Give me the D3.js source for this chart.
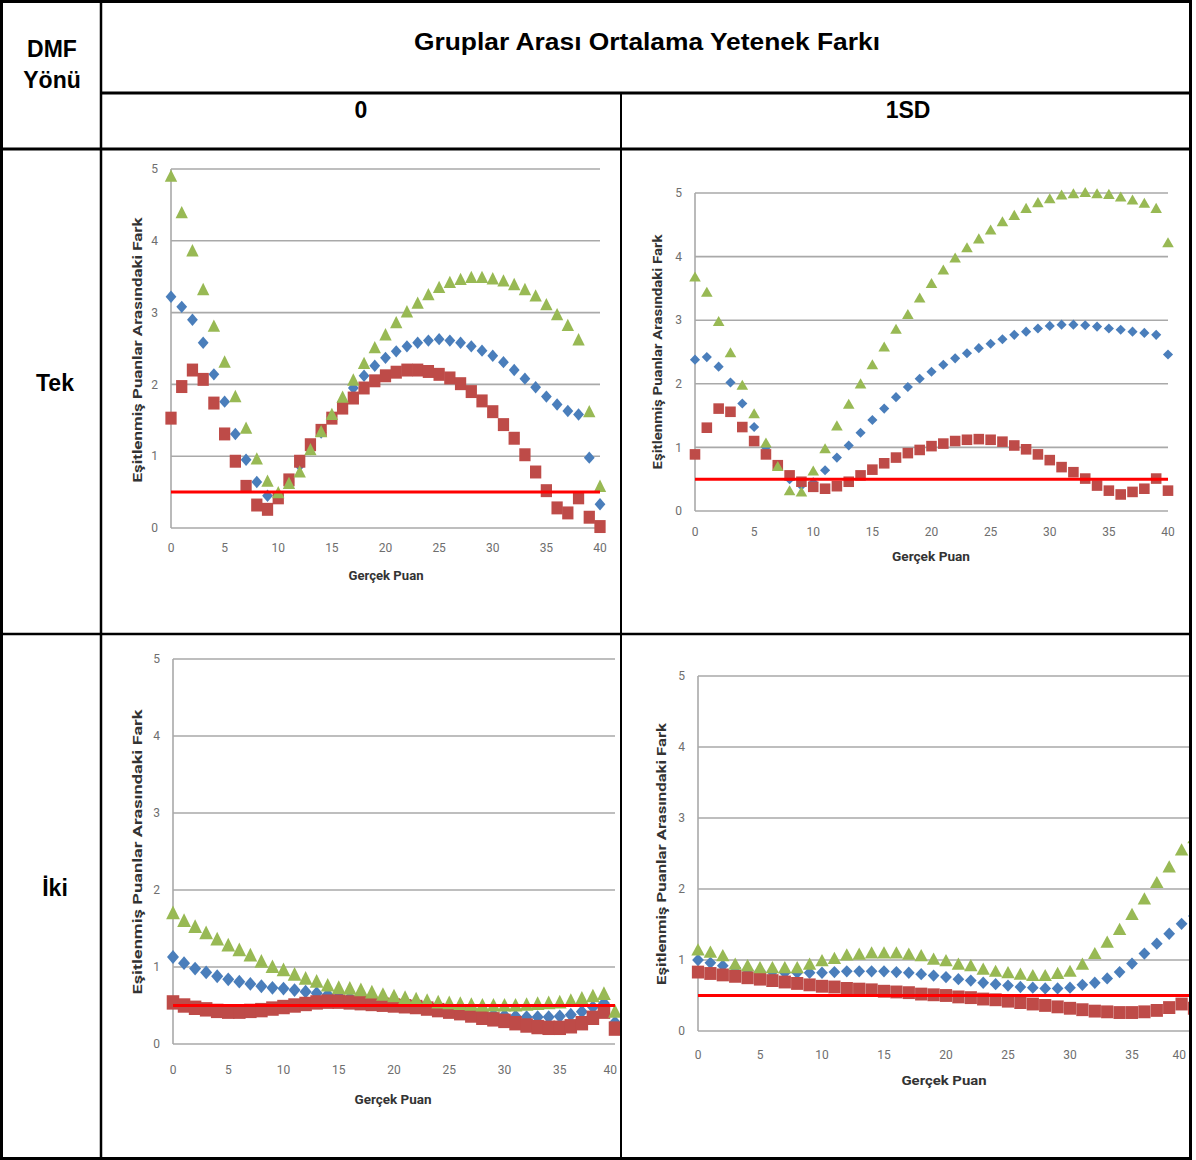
<!DOCTYPE html>
<html>
<head>
<meta charset="utf-8">
<script src="https://cdn.jsdelivr.net/npm/d3@7"></script>
<style>
  body { margin: 0; background: #fff; }
  svg { display: block; }
  .head { font-family: 'Liberation Sans', Arial, sans-serif; font-weight: bold; font-size: 23px; fill: #000; }
  .tick-label { font-family: 'Liberation Sans Narrow', 'Roboto', sans-serif; font-size: 12px; fill: #6e6e6e; }
  .axis-title { font-family: 'Liberation Sans Narrow', 'Roboto', sans-serif; font-size: 12.5px; font-weight: bold; fill: #333; }
</style>
</head>
<body>
<div id="chart"></div>
<script>
// Gerçek puan (true score) values on the x axis
let scores = [0, 1, 2, 3, 4, 5, 6, 7, 8, 9, 10, 11, 12, 13, 14, 15, 16, 17, 18, 19, 20,
  21, 22, 23, 24, 25, 26, 27, 28, 29, 30, 31, 32, 33, 34, 35, 36, 37, 38, 39, 40]

let xTicks = [0, 5, 10, 15, 20, 25, 30, 35, 40]
let yTicks = [0, 1, 2, 3, 4, 5]
let cutoff = 0.5

let colHeaders = ['0', '1SD']
let rowHeaders = ['Tek', 'İki']

// DMF Tek, ability difference 0
let tek0Blue = [3.22, 3.08, 2.90, 2.58, 2.14, 1.76, 1.31, 0.95, 0.64, 0.45, 0.45, 0.64, 0.87, 1.10, 1.33, 1.55, 1.76, 1.95, 2.12, 2.26, 2.37,
  2.46, 2.53, 2.58, 2.61, 2.63, 2.61, 2.58, 2.53, 2.47, 2.40, 2.31, 2.20, 2.08, 1.96, 1.83, 1.72, 1.63, 1.58, 0.98, 0.33]
let tek0Red = [1.53, 1.97, 2.20, 2.07, 1.74, 1.31, 0.93, 0.58, 0.32, 0.26, 0.42, 0.67, 0.93, 1.16, 1.36, 1.53, 1.67, 1.81, 1.95, 2.05, 2.12,
  2.17, 2.20, 2.20, 2.18, 2.14, 2.09, 2.01, 1.90, 1.77, 1.62, 1.44, 1.25, 1.02, 0.78, 0.52, 0.28, 0.21, 0.42, 0.15, 0.02]
let tek0Green = [4.88, 4.37, 3.84, 3.30, 2.79, 2.29, 1.81, 1.37, 0.94, 0.63, 0.47, 0.60, 0.76, 1.07, 1.32, 1.56, 1.80, 2.04, 2.27, 2.49, 2.67,
  2.84, 2.99, 3.11, 3.23, 3.33, 3.40, 3.44, 3.47, 3.47, 3.45, 3.42, 3.37, 3.30, 3.21, 3.09, 2.95, 2.80, 2.60, 1.60, 0.56]

// DMF Tek, ability difference 1SD
let tek1Blue = [2.38, 2.42, 2.27, 2.02, 1.69, 1.32, 1.00, 0.72, 0.50, 0.40, 0.45, 0.64, 0.84, 1.03, 1.23, 1.43, 1.61, 1.79, 1.95, 2.08, 2.19,
  2.30, 2.40, 2.48, 2.56, 2.63, 2.70, 2.77, 2.82, 2.87, 2.91, 2.93, 2.93, 2.92, 2.90, 2.87, 2.85, 2.82, 2.80, 2.77, 2.46]
let tek1Red = [0.89, 1.31, 1.61, 1.56, 1.32, 1.10, 0.89, 0.72, 0.56, 0.46, 0.38, 0.35, 0.39, 0.46, 0.56, 0.65, 0.75, 0.84, 0.91, 0.96, 1.02,
  1.06, 1.10, 1.12, 1.13, 1.12, 1.09, 1.03, 0.97, 0.89, 0.80, 0.69, 0.61, 0.51, 0.40, 0.32, 0.26, 0.30, 0.35, 0.51, 0.32]
let tek1Green = [3.66, 3.42, 2.96, 2.47, 1.96, 1.51, 1.05, 0.68, 0.30, 0.28, 0.61, 0.96, 1.32, 1.66, 1.98, 2.28, 2.56, 2.84, 3.07, 3.33, 3.56,
  3.77, 3.96, 4.12, 4.26, 4.40, 4.53, 4.63, 4.74, 4.83, 4.89, 4.95, 4.97, 4.99, 4.97, 4.96, 4.92, 4.87, 4.82, 4.74, 4.20]

// DMF İki, ability difference 0
let iki0Blue = [1.13, 1.05, 0.98, 0.93, 0.88, 0.84, 0.81, 0.78, 0.75, 0.73, 0.72, 0.70, 0.68, 0.66, 0.64, 0.62, 0.60, 0.58, 0.56, 0.54, 0.52,
  0.50, 0.48, 0.47, 0.45, 0.44, 0.42, 0.41, 0.40, 0.38, 0.37, 0.36, 0.35, 0.35, 0.35, 0.36, 0.38, 0.42, 0.48, 0.53, 0.28]
let iki0Red = [0.54, 0.50, 0.47, 0.45, 0.43, 0.42, 0.42, 0.43, 0.44, 0.46, 0.48, 0.50, 0.52, 0.54, 0.55, 0.55, 0.54, 0.53, 0.52, 0.51, 0.50,
  0.49, 0.48, 0.46, 0.44, 0.42, 0.40, 0.37, 0.34, 0.32, 0.30, 0.27, 0.24, 0.22, 0.21, 0.21, 0.23, 0.27, 0.34, 0.42, 0.20]
let iki0Green = [1.68, 1.58, 1.50, 1.42, 1.34, 1.26, 1.20, 1.13, 1.05, 0.98, 0.94, 0.88, 0.83, 0.79, 0.74, 0.71, 0.70, 0.68, 0.65, 0.62, 0.60,
  0.58, 0.56, 0.54, 0.52, 0.51, 0.50, 0.49, 0.48, 0.48, 0.48, 0.48, 0.49, 0.50, 0.51, 0.52, 0.54, 0.57, 0.60, 0.63, 0.40]

// DMF İki, ability difference 1SD
let iki1Blue = [1.00, 0.96, 0.92, 0.89, 0.86, 0.84, 0.83, 0.82, 0.82, 0.82, 0.82, 0.83, 0.84, 0.84, 0.84, 0.84, 0.83, 0.82, 0.80, 0.78, 0.76,
  0.73, 0.71, 0.68, 0.66, 0.64, 0.62, 0.61, 0.60, 0.60, 0.61, 0.65, 0.68, 0.74, 0.83, 0.95, 1.09, 1.23, 1.37, 1.51, 1.62]
let iki1Red = [0.83, 0.81, 0.79, 0.77, 0.75, 0.73, 0.71, 0.69, 0.67, 0.65, 0.63, 0.62, 0.60, 0.59, 0.58, 0.56, 0.55, 0.54, 0.52, 0.51, 0.50,
  0.48, 0.47, 0.45, 0.44, 0.42, 0.40, 0.38, 0.36, 0.34, 0.32, 0.30, 0.28, 0.27, 0.26, 0.26, 0.27, 0.29, 0.33, 0.38, 0.32]
let iki1Green = [1.12, 1.09, 1.04, 0.92, 0.90, 0.87, 0.87, 0.87, 0.87, 0.92, 0.97, 1.00, 1.05, 1.06, 1.08, 1.08, 1.08, 1.06, 1.04, 0.99, 0.97,
  0.92, 0.90, 0.85, 0.82, 0.80, 0.78, 0.76, 0.76, 0.79, 0.82, 0.92, 1.07, 1.23, 1.41, 1.62, 1.84, 2.07, 2.29, 2.53, 2.70]

let width = 1196
let height = 1160

let svg = d3
  .select('#chart')
  .append('svg')
  .attr('width', width)
  .attr('height', height)

// table cells: columns 0 | 101 | 621 | 1190, rows 0 | 93 | 149 | 634 | 1159
let panels = [
  { id: 'p1', cell: [101, 149, 621, 634], left: 171, right: 600, top: 169, bottom: 528, xLab: 20, title: [386, 576, 75], yTitle: [138, 350, 265], sy: 1.15, k: 1.15, blue: tek0Blue, red: tek0Red, green: tek0Green },
  { id: 'p2', cell: [621, 149, 1190, 634], left: 695, right: 1168, top: 193, bottom: 511, xLab: 21, title: [931, 557, 78], yTitle: [658, 352, 235], sy: 1.0, k: 1.08, blue: tek1Blue, red: tek1Red, green: tek1Green },
  { id: 'p3', cell: [101, 634, 621, 1159], left: 173, right: 615, top: 659, bottom: 1044, xLab: 26, title: [393, 1100, 77], yTitle: [138, 852, 285], sy: 1.15, k: 1.28, blue: iki0Blue, red: iki0Red, green: iki0Green },
  { id: 'p4', cell: [621, 634, 1190, 1159], left: 698, right: 1194, top: 676, bottom: 1031, xLab: 24, title: [944, 1081, 85], yTitle: [662, 854, 262], sy: 1.05, k: 1.25, blue: iki1Blue, red: iki1Red, green: iki1Green }
]

let defs = svg.append('defs')

panels.forEach(p => {
  defs
    .append('clipPath')
    .attr('id', 'clip-' + p.id)
    .append('rect')
    .attr('x', p.cell[0] + 1)
    .attr('y', p.cell[1] + 1)
    .attr('width', p.cell[2] - p.cell[0] - 2)
    .attr('height', p.cell[3] - p.cell[1] - 2)
  drawPanel(p)
})

function drawPanel(p) {
  let x = d3.scaleLinear().domain([0, 40]).range([p.left, p.right])
  let y = d3.scaleLinear().domain([0, 5]).range([p.bottom, p.top])

  let g = svg.append('g').attr('clip-path', 'url(#clip-' + p.id + ')')

  // horizontal gridlines
  g.selectAll('.grid')
    .data(yTicks)
    .enter()
    .append('line')
    .attr('class', 'grid')
    .attr('x1', p.left)
    .attr('x2', p.right)
    .attr('y1', d => y(d))
    .attr('y2', d => y(d))
    .attr('stroke', '#a9a9a9')
    .attr('stroke-width', 1.6)

  // vertical axis line
  g.append('line')
    .attr('x1', p.left)
    .attr('x2', p.left)
    .attr('y1', y(0))
    .attr('y2', y(5))
    .attr('stroke', '#a9a9a9')
    .attr('stroke-width', 1.6)

  g.selectAll('.ytick')
    .data(yTicks)
    .enter()
    .append('text')
    .attr('class', 'tick-label')
    .attr('x', p.left - 13)
    .attr('y', d => y(d))
    .attr('dy', '0.35em')
    .attr('text-anchor', 'end')
    .text(d => d)

  // labels running into the table border are pulled back inside the cell
  let edge = p.cell[2] - 4
  g.selectAll('.xtick')
    .data(xTicks)
    .enter()
    .append('text')
    .attr('class', 'tick-label')
    .attr('x', d => (x(d) + 7 > edge ? edge : x(d)))
    .attr('y', y(0) + p.xLab)
    .attr('dy', '0.35em')
    .attr('text-anchor', d => (x(d) + 7 > edge ? 'end' : 'middle'))
    .text(d => d)

  g.append('text')
    .attr('class', 'axis-title')
    .attr('x', p.title[0])
    .attr('y', p.title[1])
    .attr('dy', '0.35em')
    .attr('text-anchor', 'middle')
    .attr('textLength', p.title[2])
    .attr('lengthAdjust', 'spacingAndGlyphs')
    .text('Gerçek Puan')

  g.append('text')
    .attr('class', 'axis-title')
    .attr('transform', 'translate(' + p.yTitle[0] + ',' + p.yTitle[1] + ') rotate(-90)')
    .attr('dy', '0.35em')
    .attr('text-anchor', 'middle')
    .attr('textLength', p.yTitle[2])
    .attr('lengthAdjust', 'spacingAndGlyphs')
    .text('Eşitlenmiş Puanlar Arasındaki Fark')

  let series = [
    { values: p.blue, color: '#4a7ebb', shape: d3.symbolSquare, size: 44, rot: 45 },
    { values: p.red, color: '#be4b48', shape: d3.symbolSquare, size: 96, rot: 0 },
    { values: p.green, color: '#98b954', shape: d3.symbolTriangle, size: 50, rot: 0 }
  ]

  series.forEach(s => {
    g.append('g')
      .selectAll('path')
      .data(scores)
      .enter()
      .append('path')
      .attr('d', d3.symbol().type(s.shape).size(s.size * p.k * p.k))
      .attr('transform', (d, i) => 'translate(' + x(d) + ',' + y(s.values[i]) + ') scale(1,' + p.sy + ') rotate(' + s.rot + ')')
      .attr('fill', s.color)
  })

  // 0.5 reference line
  g.append('line')
    .attr('x1', p.left)
    .attr('x2', p.right)
    .attr('y1', y(cutoff))
    .attr('y2', y(cutoff))
    .attr('stroke', '#ff0000')
    .attr('stroke-width', 3)
}

// table frame
let lines = [
  [101, 0, 101, 1160, 2.5],
  [621, 93, 621, 1160, 2],
  [101, 93, 1190, 93, 3],
  [0, 149, 1190, 149, 3],
  [0, 634, 1190, 634, 2.5]
]

svg.selectAll('.rule')
  .data(lines)
  .enter()
  .append('line')
  .attr('x1', d => d[0])
  .attr('y1', d => d[1])
  .attr('x2', d => d[2])
  .attr('y2', d => d[3])
  .attr('stroke', '#000')
  .attr('stroke-width', d => d[4])

svg.append('rect')
  .attr('x', 1.5)
  .attr('y', 1.5)
  .attr('width', 1189)
  .attr('height', 1157)
  .attr('fill', 'none')
  .attr('stroke', '#000')
  .attr('stroke-width', 3)

let heads = [
  { t: 'DMF', x: 52, y: 49, len: 0 },
  { t: 'Yönü', x: 52, y: 80, len: 0 },
  { t: 'Gruplar Arası Ortalama Yetenek Farkı', x: 647, y: 42, len: 466 },
  { t: colHeaders[0], x: 361, y: 110, len: 0 },
  { t: colHeaders[1], x: 908, y: 110, len: 0 },
  { t: rowHeaders[0], x: 55, y: 383, len: 0 },
  { t: rowHeaders[1], x: 55, y: 888, len: 0 }
]

svg.selectAll('.head')
  .data(heads)
  .enter()
  .append('text')
  .attr('class', 'head')
  .attr('x', d => d.x)
  .attr('y', d => d.y)
  .attr('dy', '0.35em')
  .attr('text-anchor', 'middle')
  .attr('textLength', d => (d.len ? d.len : null))
  .attr('lengthAdjust', 'spacingAndGlyphs')
  .text(d => d.t)
</script>
</body>
</html>
